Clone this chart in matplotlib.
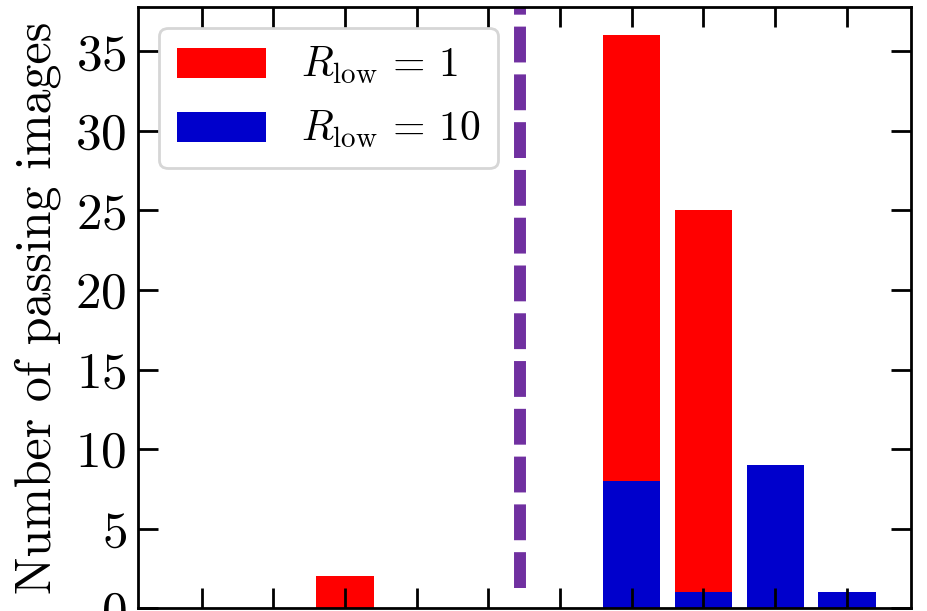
import matplotlib
matplotlib.use('Agg')
import matplotlib.pyplot as plt

# bin index and counts of passing images
positions = [0, 1, 2, 3, 4, 5, 6, 7, 8, 9]
counts_r1 = [0, 0, 2, 0, 0, 0, 36, 25, 0, 0]
counts_r10 = [0, 0, 0, 0, 0, 0, 8, 1, 9, 1]
cut_position = 4.44
cut_start = 1.3

plt.rcParams['font.family'] = 'serif'
plt.rcParams['font.serif'] = ['cmr10']
plt.rcParams['mathtext.fontset'] = 'cm'
plt.rcParams['axes.formatter.use_mathtext'] = True


def plot_graph():
    fig = plt.figure(figsize=(9.28, 6.11), dpi=100)
    ax = fig.add_axes([0.1484, 0.0044, 0.833, 0.9846])

    ax.bar(positions, counts_r1, width=0.8, color='#ff0000',
           label=r'$R_{\rm low}\,=\,1$')
    ax.bar(positions, counts_r10, width=0.8, color='#0000cc',
           label=r'$R_{\rm low}\,=\,10$')
    ax.axvline(cut_position, ymin=cut_start / 37.8, ymax=1.05,
               color='#7030a0', lw=8.6, dashes=(3, 1), clip_on=True)

    ax.set_xlim(-0.89, 9.89)
    ax.set_ylim(0, 37.8)
    ax.set_xticks(positions)
    ax.set_yticks([0, 5, 10, 15, 20, 25, 30, 35])
    ax.tick_params(direction='in', top=True, right=True, length=14.5,
                   width=2.0, labelsize=37, pad=8)
    ax.tick_params(axis='x', labelbottom=False)
    for s in ax.spines.values():
        s.set_linewidth(2.0)

    ax.set_ylabel('Number of passing images', fontsize=36, labelpad=10)
    leg = ax.legend(loc='upper left', fontsize=30, handlelength=2.13,
                    handleheight=0.74, handletextpad=0.85, borderpad=0.42,
                    labelspacing=0.55, borderaxespad=0,
                    bbox_to_anchor=(0.028, 0.965))
    leg.get_frame().set_linewidth(2.0)

    fig.savefig('out.png', dpi=100)


def main():
    plot_graph()

main()
